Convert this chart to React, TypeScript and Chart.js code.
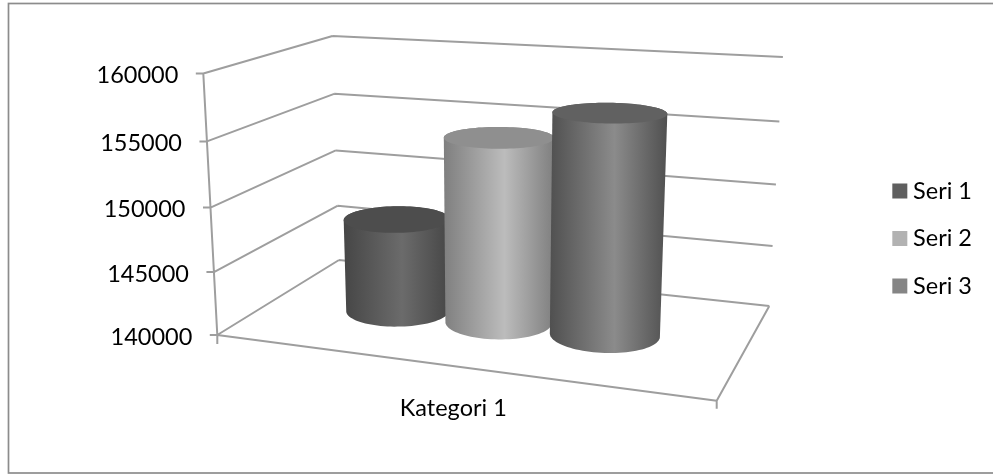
import React, { useEffect, useRef } from "react";
import { Chart, registerables, LinearScale } from "chart.js";

const categories = ["Kategori 1"];
const seriesNames = ["Seri 1", "Seri 2", "Seri 3"];
const seri1 = [147500];
const seri2 = [154600];
const seri3 = [157000];
const yMin = 140000;
const yMax = 160000;
const yStep = 5000;

const legendColors = ["#5f5f5f", "#b2b2b2", "#858585"];
const edgeColors = ["#464646", "#7f7f7f", "#505050"];
const midColors = ["#6b6b6b", "#bcbcbc", "#8b8b8b"];
const topColors = ["#4d4d4d", "#8f8f8f", "#616161"];

const FONT = "Lato, Carlito, Calibri, sans-serif";
const FONT_SIZE = 23.5;
const LINE = "#9e9e9e";

// Box corners of the 3D plot, on the picture: front-left, front-right, back-right, back-left floor.
const A = [217.3, 335];
const B = [716.7, 400.7];
const C = [769.3, 306];
const D = [339, 260];
const VP = [490, 5431];
const KAPPA = -0.0488;
const dx1 = B[0] - C[0], dx2 = D[0] - C[0], sx = A[0] - B[0] + C[0] - D[0];
const dy1 = B[1] - C[1], dy2 = D[1] - C[1], sy = A[1] - B[1] + C[1] - D[1];
const den = dx1 * dy2 - dx2 * dy1;
const g = (sx * dy2 - dx2 * sy) / den;
const h = (dx1 * sy - sx * dy1) / den;

function project(u: number, v: number, w: number): [number, number] {
  const X = A[0] + (B[0] * (1 + g) - A[0]) * u + (D[0] * (1 + h) - A[0]) * w + KAPPA * VP[0] * v;
  const Y = A[1] + (B[1] * (1 + g) - A[1]) * u + (D[1] * (1 + h) - A[1]) * w + KAPPA * VP[1] * v;
  const W = 1 + g * u + h * w + KAPPA * v;
  return [X / W, Y / W];
}

class PerspectiveScale extends LinearScale {
  static id = "perspectiveLinear";
  static defaults = LinearScale.defaults;
  fraction(value: number) {
    return (value - this.min) / (this.max - this.min);
  }
  getPixelForValue(value: number) {
    return project(0, this.fraction(value), 0)[1];
  }
  _computeLabelItems(area: any) {
    const items = super._computeLabelItems(area);
    items.forEach((item: any, i: number) => {
      const p = project(0, this.fraction(this.ticks[i].value), 0);
      item.options.translation[0] += p[0] - A[0];
    });
    return items;
  }
}

Chart.register(...registerables, PerspectiveScale);

const CYL_DEPTH = 0.48;
const CYL_DEPTH_RADIUS = 0.19;

function drawFrame(chart: any) {
  const ctx = chart.ctx;
  ctx.save();
  ctx.fillStyle = "#ffffff";
  ctx.fillRect(0, 0, chart.width, chart.height);
  ctx.strokeStyle = "#8c8c8c";
  ctx.lineWidth = 1.7;
  ctx.strokeRect(8.5, 3.5, 1000, 469.5);
  ctx.restore();
}

function drawWalls(chart: any) {
  const ctx = chart.ctx;
  const y = chart.scales.y;
  const seg = (a: number[], b: number[]) => {
    ctx.moveTo(a[0], a[1]);
    ctx.lineTo(b[0], b[1]);
  };
  ctx.save();
  ctx.strokeStyle = LINE;
  ctx.lineWidth = 2;
  ctx.beginPath();
  seg(project(0, 0, 0), project(0, 1, 0));
  y.ticks.forEach((t: any) => {
    const v = (t.value - y.min) / (y.max - y.min);
    const f = project(0, v, 0);
    const bl = project(0, v, 1);
    const br = project(1, v, 1);
    seg([f[0] - 7.5, f[1]], f);
    seg(f, bl);
    seg(bl, br);
  });
  const fl = project(0, 0, 0);
  const fr = project(1, 0, 0);
  seg(fl, fr);
  seg(fr, project(1, 0, 1));
  seg(fl, [fl[0], fl[1] + 9]);
  seg(fr, [fr[0], fr[1] + 8]);
  ctx.stroke();
  ctx.restore();
}

function ring(u: number, ru: number, v: number) {
  const pts: [number, number][] = [];
  const n = 96;
  for (let i = 0; i < n; i++) {
    const t = (2 * Math.PI * i) / n;
    pts.push(project(u + ru * Math.cos(t), v, CYL_DEPTH + CYL_DEPTH_RADIUS * Math.sin(t)));
  }
  return pts;
}

function hull(points: [number, number][]) {
  const pts = [...points].sort((a, b) => a[0] - b[0] || a[1] - b[1]);
  const cross = (o: number[], a: number[], b: number[]) =>
    (a[0] - o[0]) * (b[1] - o[1]) - (a[1] - o[1]) * (b[0] - o[0]);
  const lo: [number, number][] = [];
  for (const p of pts) {
    while (lo.length >= 2 && cross(lo[lo.length - 2], lo[lo.length - 1], p) <= 0) lo.pop();
    lo.push(p);
  }
  const up: [number, number][] = [];
  for (const p of pts.reverse()) {
    while (up.length >= 2 && cross(up[up.length - 2], up[up.length - 1], p) <= 0) up.pop();
    up.push(p);
  }
  return [...lo.slice(0, -1), ...up.slice(0, -1)];
}

function drawCylinder(chart: any, index: number, bar: any, value: number) {
  const ctx = chart.ctx;
  const area = chart.chartArea;
  const y = chart.scales.y;
  const u = (bar.x - area.left) / area.width;
  const ru = bar.width / area.width / 2;
  const v = (value - y.min) / (y.max - y.min);
  const top = ring(u, ru, v);
  const body = hull([...ring(u, ru, 0), ...top]);
  const xs = body.map((p) => p[0]);
  const left = Math.min(...xs);
  const right = Math.max(...xs);
  const grad = ctx.createLinearGradient(left, 0, right, 0);
  grad.addColorStop(0, edgeColors[index]);
  grad.addColorStop(0.55, midColors[index]);
  grad.addColorStop(1, edgeColors[index]);
  const fill = (pts: [number, number][], style: any) => {
    ctx.beginPath();
    pts.forEach((p, i) => (i ? ctx.lineTo(p[0], p[1]) : ctx.moveTo(p[0], p[1])));
    ctx.closePath();
    ctx.fillStyle = style;
    ctx.fill();
  };
  fill(body, grad);
  fill(top, topColors[index]);
}

const cylinderPlugin = {
  id: "cylinders",
  beforeDraw(chart: any) {
    drawFrame(chart);
  },
  beforeDatasetsDraw(chart: any) {
    drawWalls(chart);
    chart.data.datasets.forEach((ds: any, i: number) => {
      chart.getDatasetMeta(i).data.forEach((bar: any, j: number) => drawCylinder(chart, i, bar, ds.data[j]));
    });
  },
  beforeDatasetDraw() {
    return false;
  },
};

export default function App() {
  const ref = useRef<HTMLCanvasElement>(null);
  useEffect(() => {
    const chart = new Chart(ref.current as any, {
      type: "bar",
      data: {
        labels: categories,
        datasets: [seri1, seri2, seri3].map((data, i) => ({
          label: seriesNames[i],
          data,
          backgroundColor: legendColors[i],
          borderColor: legendColors[i],
          borderWidth: 12,
          categoryPercentage: 0.67,
          barPercentage: 0.975,
        })),
      },
      plugins: [cylinderPlugin],
      options: {
        responsive: false,
        animation: false,
        events: [],
        layout: { autoPadding: false, padding: { left: 0, top: 3, right: 11, bottom: 0 } },
        font: { family: FONT },
        plugins: {
          title: { display: false },
          tooltip: { enabled: false },
          legend: {
            position: "right",
            labels: {
              boxWidth: 3,
              boxHeight: 3,
              padding: 24,
              color: "#000000",
              font: { family: FONT, size: FONT_SIZE, lineHeight: 1 },
            },
          },
        },
        scales: {
          x: {
            position: "bottom",
            grid: { display: false, drawTicks: false },
            border: { display: false },
            afterFit: (s: any) => {
              s.height = 474 - 335;
            },
            ticks: { color: "#000000", padding: 59, font: { family: FONT, size: FONT_SIZE } },
          },
          y: {
            type: "perspectiveLinear",
            position: "left",
            min: yMin,
            max: yMax,
            grid: { display: false, drawTicks: false },
            border: { display: false },
            afterFit: (s: any) => {
              s.width = 217.3;
            },
            ticks: {
              stepSize: yStep,
              color: "#000000",
              padding: 25,
              labelOffset: 2,
              font: { family: FONT, size: FONT_SIZE },
              callback: (v: any) => String(v),
            },
          },
          pad: {
            type: "linear",
            position: "right",
            grid: { display: false, drawTicks: false },
            border: { display: false },
            ticks: { display: false },
            afterFit: (s: any) => {
              s.width = 185;
            },
          },
        },
      },
    } as any);
    return () => chart.destroy();
  }, []);
  return (
    <div style={{ position: "absolute", left: 0, top: 0 }}>
      <canvas ref={ref} width={993} height={474} style={{ display: "block" }} />
    </div>
  );
}
